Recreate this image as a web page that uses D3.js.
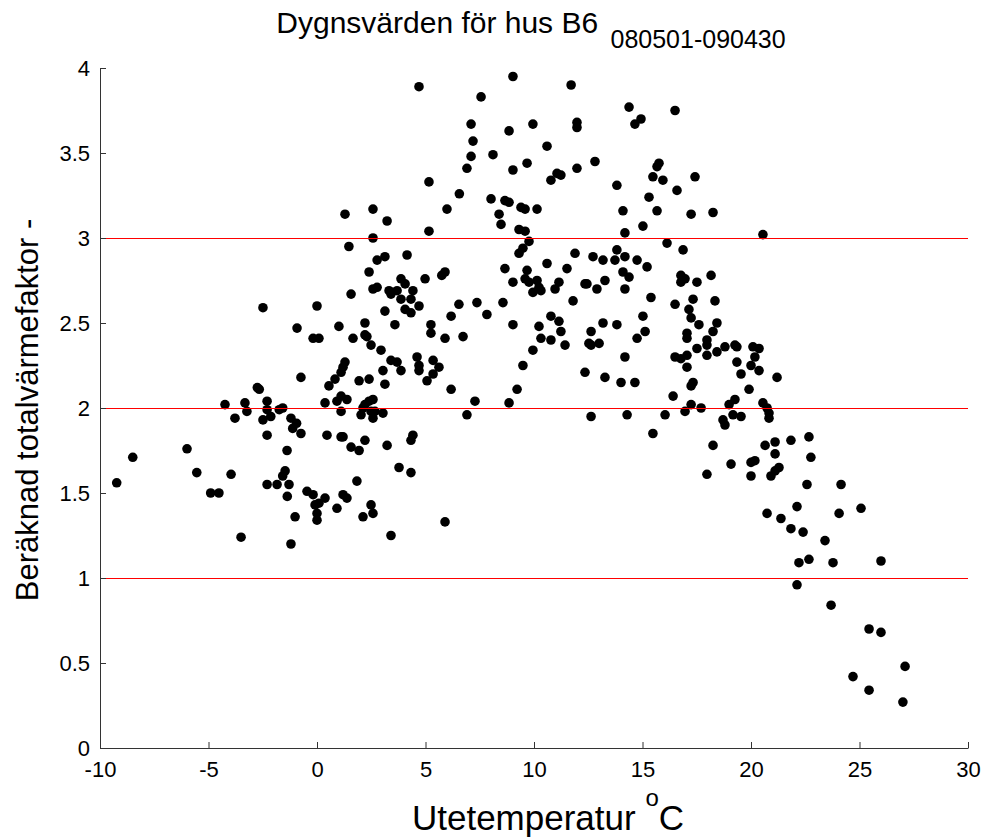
<!DOCTYPE html>
<html><head><meta charset="utf-8">
<script src="https://cdn.jsdelivr.net/npm/d3@7"></script>
<style>
body{margin:0;background:#fff}
text{font-family:"Liberation Sans",Arial,Helvetica,sans-serif;fill:#000}
</style>
</head><body>
<svg id="chart" width="986" height="838"></svg>
<script>
const temperature = [
-2.75,-2.66,-4.24,-3.32,-3.23,-2.30,-2.30,-2.13,-1.74,-1.58,
-3.78,-2.49,-1.20,-0.94,-1.12,-2.30,-0.74,-5.99,-8.49,-1.38,
-5.54,-3.96,-1.47,-1.58,-9.23,-4.90,-4.52,-2.30,-1.84,-1.29,
-1.37,-1.01,-3.50,-1.20,-2.49,
6.56,1.29,2.58,5.99,3.23,5.16,2.58,1.47,4.15,3.13,
2.77,2.40,3.87,4.06,4.98,5.75,5.90,2.77,2.58,3.32,
3.69,3.41,4.42,3.87,4.33,1.57,0.00,4.06,4.33,4.70,
3.13,6.54,6.18,-0.92,1.01,2.21,3.59,5.25,5.25,-0.18,
0.09,1.66,2.21,2.30,2.49,5.90,6.73,2.95,4.61,3.41,
3.69,1.29,1.20,1.11,5.35,5.62,4.70,4.70,3.87,3.04,
-0.74,0.83,0.55,1.94,2.40,3.13,5.35,5.07,6.18,
0.37,0.92,1.11,1.38,1.11,2.21,2.40,2.58,2.12,2.49,
2.67,2.03,2.58,3.04,6.91,0.46,1.11,1.20,2.21,1.57,
1.94,3.23,4.42,4.33,3.78,4.33,1.84,-0.46,-0.18,0.37,
0.09,-0.09,1.20,1.38,0.00,0.00,0.92,2.49,2.58,2.12,
5.90,3.41,
4.70,9.03,11.71,7.56,7.10,8.85,9.95,11.98,11.98,7.19,
10.60,7.10,8.11,12.81,9.68,6.91,9.03,11.06,11.24,11.98,
10.78,5.16,
8.02,8.66,8.85,9.40,9.59,10.14,8.39,8.48,9.31,9.59,
9.77,9.31,9.49,11.89,12.72,
10.60,8.66,9.68,11.52,9.03,9.59,9.77,10.14,10.23,9.95,
10.32,11.15,10.97,12.35,12.44,12.90,11.80,7.37,8.57,7.83,
9.03,10.78,11.15,10.23,11.24,12.63,10.32,10.78,11.43,12.53,
12.63,9.95,9.49,12.35,9.22,7.28,8.85,12.63,
14.38,16.50,14.93,14.65,15.76,15.67,15.48,15.94,17.42,13.82,
16.59,15.30,14.10,15.67,17.24,18.25,15.02,14.19,20.55,16.13,
16.87,13.82,
13.18,13.73,14.19,14.75,15.21,14.10,14.38,13.27,14.19,16.77,
16.96,16.77,17.51,18.16,15.39,16.50,17.33,18.34,17.14,17.24,
17.60,15.02,13.18,13.82,15.12,18.43,18.25,17.05,17.05,14.75,
17.97,17.97,13.00,17.51,18.80,19.26,19.35,20.09,20.37,14.19,
16.50,16.77,17.05,17.97,18.43,20.18,19.35,20.00,17.05,13.27,
20.37,19.54,14.01,14.65,17.33,17.24,21.20,19.91,16.41,19.26,
18.99,17.24,16.96,17.70,20.55,20.74,20.83,20.83,14.29,16.04,
19.17,19.54,18.71,18.80,15.48,18.25,20.65,21.11,
21.84,22.67,21.11,22.76,19.08,20.00,20.18,21.29,21.11,20.92,
17.97,20.00,22.58,24.15,22.12,20.74,21.38,24.06,25.07,
21.84,22.40,23.41,22.21,22.67,23.78,25.99,22.12,23.69,25.44,
25.99,27.10,24.70,25.44,27.00
];
const heatFactor = [
2.12,2.11,2.02,2.03,1.98,2.04,1.99,1.95,1.99,2.00,
1.94,1.93,1.94,1.91,1.88,1.84,1.85,1.76,1.71,1.75,
1.62,1.61,1.63,1.60,1.56,1.50,1.50,1.55,1.55,1.55,
1.48,1.36,1.24,1.20,2.59,
3.26,3.14,3.17,3.17,3.10,3.04,3.00,2.95,2.90,2.89,
2.87,2.80,2.76,2.73,2.76,2.78,2.80,2.71,2.70,2.69,
2.69,2.67,2.69,2.64,2.64,2.67,2.60,2.58,2.56,2.60,
2.57,2.61,2.54,2.47,2.48,2.50,2.49,2.49,2.44,2.41,
2.41,2.41,2.43,2.42,2.37,2.41,2.42,2.34,2.30,2.28,
2.27,2.27,2.24,2.21,2.28,2.24,2.25,2.22,2.22,2.22,
2.18,2.17,2.13,2.16,2.17,2.14,2.20,2.16,2.11,
2.03,2.04,2.07,2.05,1.98,2.02,2.04,2.05,2.00,1.98,
1.98,1.96,1.94,1.97,1.96,1.84,1.83,1.83,1.81,1.77,
1.75,1.78,1.84,1.81,1.65,1.62,1.57,1.51,1.49,1.47,
1.44,1.43,1.49,1.47,1.38,1.34,1.41,1.43,1.38,1.36,
1.33,1.25,
3.89,3.95,3.90,3.83,3.67,3.63,3.67,3.68,3.65,3.57,
3.54,3.48,3.49,3.45,3.44,3.41,3.40,3.38,3.37,3.41,
3.34,3.33,
3.23,3.22,3.21,3.18,3.17,3.17,3.14,3.08,3.05,3.04,
2.98,2.91,2.94,2.91,2.89,
2.85,2.82,2.81,2.82,2.74,2.76,2.74,2.75,2.71,2.68,
2.69,2.74,2.70,2.73,2.73,2.70,2.63,2.62,2.62,2.55,
2.49,2.54,2.51,2.48,2.45,2.45,2.41,2.40,2.37,2.38,
2.37,2.34,2.25,2.21,2.11,2.04,2.03,1.95,
3.77,3.75,3.70,3.67,3.44,3.42,3.36,3.34,3.36,3.31,
3.28,3.24,3.16,3.16,3.14,3.15,3.07,3.03,3.02,2.97,
2.93,2.93,
2.87,2.87,2.89,2.87,2.83,2.80,2.77,2.75,2.70,2.78,
2.76,2.74,2.74,2.78,2.65,2.61,2.64,2.63,2.58,2.53,
2.49,2.54,2.50,2.49,2.45,2.50,2.45,2.44,2.41,2.41,
2.40,2.37,2.38,2.35,2.36,2.37,2.36,2.36,2.35,2.30,
2.30,2.29,2.31,2.31,2.33,2.30,2.27,2.25,2.24,2.18,
2.22,2.20,2.15,2.15,2.15,2.13,2.18,2.11,2.07,2.05,
2.02,2.02,1.98,2.00,2.03,2.00,1.97,1.94,1.96,1.96,
1.96,1.95,1.93,1.90,1.85,1.78,1.78,1.80,
1.81,1.83,1.73,1.71,1.67,1.68,1.69,1.65,1.63,1.60,
1.61,1.60,1.55,1.55,1.42,1.38,1.35,1.38,1.41,
1.29,1.27,1.22,1.09,1.11,1.09,1.10,0.96,0.84,0.70,
0.68,0.48,0.42,0.34,0.27
];
const xTicks = [-10,-5,0,5,10,15,20,25,30];
const yTicks = [0,0.5,1,1.5,2,2.5,3,3.5,4];
const refLines = [1,2,3];
const titleMain = "Dygnsvärden för hus B6";
const titleSub = "080501-090430";
const xLabel = "Utetemperatur";
const yLabel = "Beräknad totalvärmefaktor  -";

const svg = d3.select("#chart");
const L = 100, R = 968, T = 68, B = 748;
const x = d3.scaleLinear().domain([-10,30]).range([L,R]);
const y = d3.scaleLinear().domain([0,4]).range([B,T]);

const points = temperature.map((t,i)=>({t, v: heatFactor[i]}));

svg.append("g").selectAll("circle").data(points).join("circle")
  .attr("cx", d=>x(d.t)).attr("cy", d=>y(d.v)).attr("r", 4.8).attr("fill","#000");

svg.append("g").selectAll("line").data(refLines).join("line")
  .attr("x1", L).attr("x2", R)
  .attr("y1", d=>Math.round(y(d))+0.5).attr("y2", d=>Math.round(y(d))+0.5)
  .attr("stroke","#ff0000").attr("stroke-width",1);

const fmt = d=>String(d);
const gx = svg.append("g").attr("transform",`translate(0,${B})`)
  .call(d3.axisBottom(x).tickValues(xTicks).tickFormat(fmt).tickSize(-6).tickSizeOuter(0).tickPadding(13));
const gy = svg.append("g").attr("transform",`translate(${L},0)`)
  .call(d3.axisLeft(y).tickValues(yTicks).tickFormat(fmt).tickSize(-6).tickSizeOuter(0).tickPadding(10));
[gx,gy].forEach(g=>{
  g.selectAll("path,line").attr("stroke","#333");
  g.selectAll("text").attr("font-size",22).attr("fill","#000")
   .style("font-family",'"Liberation Sans",Arial,sans-serif');
});

const title = svg.append("text").attr("x", 531).attr("y", 33).attr("text-anchor","middle").attr("font-size",30);
title.append("tspan").text(titleMain + " ");
title.append("tspan").attr("font-size",25).attr("dx",4).attr("dy",15).text(titleSub);

const xl = svg.append("text").attr("x", 548).attr("y", 830).attr("text-anchor","middle").attr("font-size",35);
xl.append("tspan").text(xLabel + "  ");
xl.append("tspan").attr("font-size",24).attr("dy",-24).text("o");
xl.append("tspan").attr("dy",24).text("C");

svg.append("text").attr("transform","translate(38,410) rotate(-90)")
  .attr("text-anchor","middle").attr("font-size",31).text(yLabel);
</script>
</body></html>
